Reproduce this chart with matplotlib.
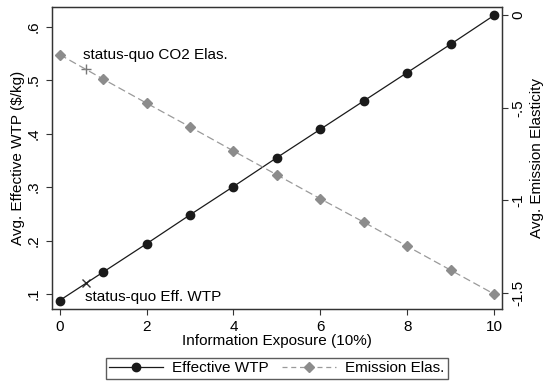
import numpy as np
import matplotlib
matplotlib.use("Agg")
import matplotlib.pyplot as plt
from matplotlib.lines import Line2D

matplotlib.rcParams['font.family'] = ['Liberation Sans', 'DejaVu Sans']

# ---------- data ----------
exposure = [0, 1, 2, 3, 4, 5, 6, 7, 8, 9, 10]
eff_wtp = [0.088, 0.141, 0.194, 0.248, 0.301, 0.355, 0.408, 0.461, 0.514, 0.567, 0.621]
emis_elas = [-0.213, -0.345, -0.475, -0.603, -0.733, -0.862, -0.991, -1.117, -1.247, -1.376, -1.505]

sq_x = 0.6
sq_wtp = 0.120
sq_elas = -0.290

left_ticks = [0.1, 0.2, 0.3, 0.4, 0.5, 0.6]
left_labels = ['.1', '.2', '.3', '.4', '.5', '.6']
right_ticks = [0, -0.5, -1, -1.5]
right_labels = ['0', '-.5', '-1', '-1.5']
x_ticks = [0, 2, 4, 6, 8, 10]

wtp_col = '#1a1a1a'
elas_col = '#8c8c8c'
fs = 11

fig = plt.figure(figsize=(5.45, 3.83), dpi=100)
ax = fig.add_axes([0.095, 0.193, 0.826, 0.788])
ax2 = ax.twinx()

ax.plot(exposure, eff_wtp, color=wtp_col, lw=0.9, marker='o', ms=6, zorder=3)
ax.plot([sq_x], [sq_wtp], marker='x', color='#333333', ms=6, mew=1.0, ls='none')
ax2.plot(exposure, emis_elas, color='#9a9a9a', lw=0.9, ls=(0, (6, 3)),
         marker='D', ms=5.5, mfc=elas_col, mec=elas_col, zorder=3)
ax2.plot([sq_x], [sq_elas], marker='+', color='#777777', ms=7, mew=1.0, ls='none')

ax.set_xlim(-0.18, 10.18)
ax.set_ylim(0.072, 0.636)
ax2.set_ylim(-1.586, 0.042)

ax.set_xticks(x_ticks)
ax.set_yticks(left_ticks)
ax.set_yticklabels(left_labels, rotation=90, va='center')
ax2.set_yticks(right_ticks)
ax2.set_yticklabels(right_labels, rotation=90, va='center')

for a in (ax, ax2):
    a.tick_params(labelsize=fs, length=4, width=0.8, color='#333333', pad=4)
    for s in a.spines.values():
        s.set_color('#333333')
        s.set_linewidth(0.9)
ax.tick_params(axis='x', pad=4)
ax2.tick_params(axis='y', pad=3)

ax.set_xlabel('Information Exposure (10%)', fontsize=fs, labelpad=0)
ax.set_ylabel('Avg. Effective WTP (\\$/kg)', fontsize=fs, labelpad=1)
ax2.set_ylabel('Avg. Emission Elasticity', fontsize=fs, rotation=90, labelpad=3)

ax.text(0.58, 0.094, 'status-quo Eff. WTP', fontsize=fs, va='center', ha='left')
ax2.text(0.54, -0.218, 'status-quo CO2 Elas.', fontsize=fs, va='center', ha='left')

handles = [
    Line2D([], [], color=wtp_col, lw=0.9, marker='o', ms=6),
    Line2D([], [], color='#9a9a9a', lw=0.9, ls=(0, (4, 3)), marker='D', ms=5.5,
           mfc=elas_col, mec=elas_col),
]
fig.legend(handles, ['Effective WTP', 'Emission Elas.'], loc='lower center',
           bbox_to_anchor=(0.508, -0.01), ncol=2, fontsize=fs, frameon=True,
           fancybox=False, edgecolor='#333333', handlelength=3.5, columnspacing=0.9,
           borderpad=0.25, handletextpad=0.6)

fig.savefig('out.png', dpi=100)
